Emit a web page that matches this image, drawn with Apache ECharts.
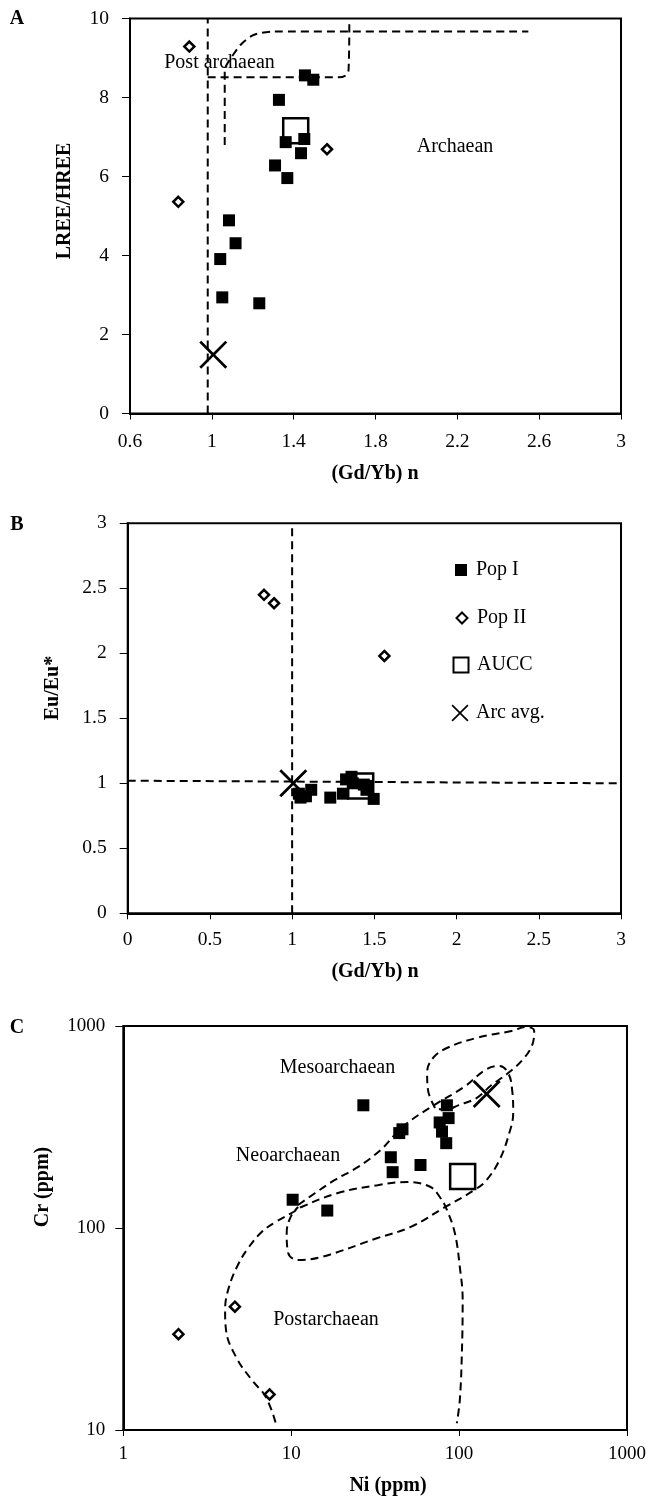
<!DOCTYPE html>
<html>
<head>
<meta charset="utf-8">
<script src="https://cdn.jsdelivr.net/npm/echarts@6/dist/echarts.min.js"></script>
<style>
html, body { margin: 0; padding: 0; background: #fff; }
#myChart { width: 649px; height: 1501px; }
</style>
</head>
<body>
<div id="myChart"></div>
<script>
// ---- panel A : (Gd/Yb)n vs LREE/HREE ----
var popIA_x = [1.455, 1.496, 1.328, 1.361, 1.452, 1.436, 1.309, 1.369, 1.084, 1.116, 1.041, 1.051, 1.232];
var popIA_y = [8.56, 8.45, 7.94, 6.87, 6.95, 6.59, 6.28, 5.96, 4.89, 4.31, 3.91, 2.94, 2.79];
var popIIA_x = [0.89, 0.836, 1.563];
var popIIA_y = [9.29, 5.36, 6.69];
var auccA = [1.41, 7.16];
var arcA = [1.007, 1.49];
var vlineA = [[0.98, 0], [0.98, 10]];
var postBoxA = [[0.98, 8.51], [1.62, 8.51], [1.655, 8.56], [1.668, 8.68], [1.672, 9.86]];
var archBoxA = [[1.063, 6.8], [1.063, 8.7], [1.075, 8.85], [1.1, 9.05], [1.14, 9.33], [1.195, 9.56], [1.245, 9.64], [1.3, 9.67], [2.547, 9.67]];

// ---- panel B : (Gd/Yb)n vs Eu/Eu* ----
var popIB_x = popIA_x;
var popIB_y = [0.98, 0.88, 1.03, 1.05, 0.95, 0.99, 0.92, 1.0, 0.9, 0.95, 0.92, 0.89, 0.89];
var popIIB_x = [0.829, 0.89, 1.561];
var popIIB_y = [2.45, 2.385, 1.98];
var auccB = [1.417, 0.98];
var arcB = [1.007, 1.0];
var vlineB = [[1.0, 0], [1.0, 3]];
var hlineB = [[0, 1.02], [3, 1.0]];

// ---- panel C : Ni vs Cr (log-log) ----
var popIC_x = [26.9, 84.6, 86.6, 76.6, 79.1, 83.8, 44, 46, 39.2, 40.2, 58.9, 10.2, 16.4];
var popIC_y = [405, 405, 350, 333, 300, 263, 295, 308, 224, 189, 205, 138, 122];
var popIIC_x = [2.13, 4.62, 7.43];
var popIIC_y = [29.8, 40.8, 15.0];
var auccC = [105, 180];
var arcC = [146, 461];
var mesoC = [[71.9, 393], [65.3, 482], [64.5, 591], [70, 695], [84.6, 778], [127, 873], [205, 945], [251, 989],
             [280, 945], [276, 833], [244, 695], [196, 585], [156, 510], [127, 440], [99.5, 406], [82.2, 384], [71.9, 393]];
var neoC = [[11.0, 130], [13.9, 149], [18.2, 173], [24.9, 200], [34.0, 243], [41.2, 288], [49.1, 331], [71.0, 406],
            [107, 499], [146, 612], [174, 634], [196, 585], [207, 482], [210, 371], [199, 295], [174, 217], [146, 173],
            [126, 156], [81.3, 126], [51.2, 101], [32.7, 89.2], [15.1, 71.8], [11.0, 69.5], [9.6, 75.2], [9.4, 94.4],
            [9.9, 113], [11.0, 127]];
var postC = [[8.07, 10.9], [7.05, 14.6], [5.82, 17.7], [4.69, 23.0], [4.09, 31.3], [4.04, 39.3], [4.26, 51.0],
             [4.88, 67.1], [5.6, 80.5], [6.67, 95.5], [8.07, 107], [10.3, 120], [11.5, 127], [19.0, 149], [32.7, 163],
             [49.2, 169], [67.2, 160], [76.9, 142], [84.6, 123], [94.3, 94.4], [101, 64.1], [105, 44.0], [104, 24.9],
             [101, 14.1], [96.9, 10.8]];

var FONT = 'Liberation Serif';
var xPath = 'path://M0,0.7L0.7,0L5,4.3L9.3,0L10,0.7L5.7,5L10,9.3L9.3,10L5,5.7L0.7,10L0,9.3L4.3,5Z';

function pts(xs, ys) {
  return xs.map(function (x, i) { return [x, ys[i]]; });
}
function dash(data, ax, smooth) {
  return { type: 'line', xAxisIndex: ax, yAxisIndex: ax, data: data, symbol: 'none', showSymbol: false,
    smooth: smooth || false, silent: true, z: 1, lineStyle: { color: '#000', width: 2, type: [8, 5] } };
}
function marks(ax, pI, pII, au, arc) {
  return [
    { name: 'Arc avg.', type: 'scatter', xAxisIndex: ax, yAxisIndex: ax, data: [arc], symbol: xPath, symbolSize: 28,
      itemStyle: { color: '#000', opacity: 1 }, z: 2 },
    { name: 'AUCC', type: 'scatter', xAxisIndex: ax, yAxisIndex: ax, data: [au], symbol: 'rect', symbolSize: 25,
      itemStyle: { color: '#fff', borderColor: '#000', borderWidth: 2.5, opacity: 1 }, z: 3 },
    { name: 'Pop II', type: 'scatter', xAxisIndex: ax, yAxisIndex: ax, data: pII, symbol: 'diamond', symbolSize: 10,
      itemStyle: { color: '#fff', borderColor: '#000', borderWidth: 2.5, opacity: 1 }, z: 4 },
    { name: 'Pop I', type: 'scatter', xAxisIndex: ax, yAxisIndex: ax, data: pI, symbol: 'rect', symbolSize: 12,
      itemStyle: { color: '#000', opacity: 1 }, z: 5 }
  ];
}
function valAxis(idx, min, max, step, margin, isX) {
  return { type: 'value', gridIndex: idx, min: min, max: max, interval: step,
    axisLine: { show: true, onZero: false, lineStyle: { color: '#000', width: 2 } },
    axisTick: { show: true, inside: false, length: isX ? 6 : 8, lineStyle: { color: '#000', width: 1 } },
    axisLabel: { color: '#000', fontFamily: FONT, fontSize: 19.5, margin: margin,
      formatter: function (v) { return String(+v.toFixed(2)); } },
    splitLine: { show: false } };
}
function logAxis(idx, min, max, margin, isX) {
  return { type: 'log', logBase: 10, gridIndex: idx, min: min, max: max,
    axisLine: { show: true, onZero: false, lineStyle: { color: '#000', width: 2 } },
    axisTick: { show: true, inside: false, length: isX ? 6 : 8, lineStyle: { color: '#000', width: 1 } },
    axisLabel: { color: '#000', fontFamily: FONT, fontSize: 19, margin: margin,
      formatter: function (v) { return String(Math.round(v)); } },
    minorTick: { show: false }, splitLine: { show: false } };
}
function txt(s, x, y, bold, rot) {
  return { type: 'text', x: x, y: y, rotation: rot ? Math.PI / 2 : 0, silent: true,
    style: { text: s, x: 0, y: 0, fill: '#000', font: (bold ? 'bold ' : '') + '20px "' + FONT + '"',
      align: 'center', verticalAlign: 'middle', textAlign: 'center', textVerticalAlign: 'middle' } };
}
function leg(name, left, top, size, pad) {
  return { data: [name], left: left, top: top, itemWidth: size, itemHeight: size, padding: 0,
    selectedMode: false, orient: 'vertical',
    textStyle: { color: '#000', fontFamily: FONT, fontSize: 20, lineHeight: 20, padding: [0, 0, 0, pad] } };
}

var myChart = echarts.init(document.getElementById('myChart'));
var series = [
  dash(vlineA, 0), dash(postBoxA, 0, 0.3), dash(archBoxA, 0, 0.3),
  dash(vlineB, 1), dash(hlineB, 1),
  dash(mesoC, 2, 0.4), dash(neoC, 2, 0.4), dash(postC, 2, 0.4)
];
series = series.concat(
  marks(1, pts(popIB_x, popIB_y), pts(popIIB_x, popIIB_y), auccB, arcB),
  marks(0, pts(popIA_x, popIA_y), pts(popIIA_x, popIIA_y), auccA, arcA),
  marks(2, pts(popIC_x, popIC_y), pts(popIIC_x, popIIC_y), auccC, arcC)
);

myChart.setOption({
  animation: false,
  backgroundColor: '#fff',
  grid: [
    { left: 130, top: 18.5, width: 491, height: 395, show: true, borderColor: '#000', borderWidth: 2 },
    { left: 127.7, top: 523.3, width: 493.3, height: 390, show: true, borderColor: '#000', borderWidth: 2 },
    { left: 123.3, top: 1026, width: 508.4, height: 404, show: true, borderColor: '#000', borderWidth: 2 }
  ],
  xAxis: [
    valAxis(0, 0.6, 3, 0.4, 18, true),
    valAxis(1, 0, 3, 0.5, 17, true),
    logAxis(2, 1, 1000, 15, true)
  ],
  yAxis: [
    valAxis(0, 0, 10, 2, 21, false),
    valAxis(1, 0, 3, 0.5, 21, false),
    logAxis(2, 10, 1000, 18, false)
  ],
  legend: [
    leg('Pop I', 455, 560, 12, 4),
    leg('Pop II', 455.5, 608, 11, 4.5),
    leg('AUCC', 452.5, 655, 15, 3.5),
    leg('Arc avg.', 451.5, 703, 17, 2.5)
  ],
  graphic: [
    txt('A', 17, 19, true), txt('B', 17, 525, true), txt('C', 17, 1028, true),
    txt('Post archaean', 219.5, 63), txt('Archaean', 455, 147),
    txt('Mesoarchaean', 337.5, 1068), txt('Neoarchaean', 288, 1156), txt('Postarchaean', 326, 1320),
    txt('LREE/HREE', 65, 201, true, true), txt('(Gd/Yb) n', 375, 474, true),
    txt('Eu/Eu*', 53, 688, true, true), txt('(Gd/Yb) n', 375, 972, true),
    txt('Cr (ppm)', 43, 1187, true, true), txt('Ni (ppm)', 388, 1486, true)
  ],
  series: series
});
</script>
</body>
</html>
